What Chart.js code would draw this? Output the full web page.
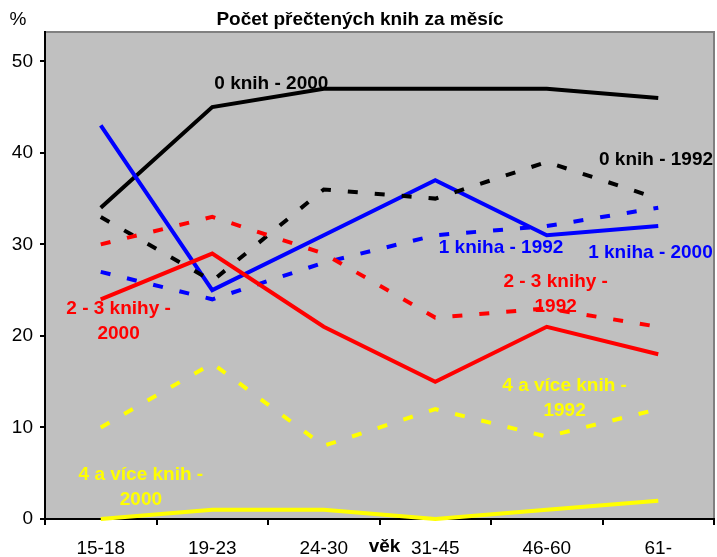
<!DOCTYPE html>
<html>
<head>
  <meta charset="utf-8" />
  <title>Počet přečtených knih za měsíc</title>
  <script src="https://cdn.jsdelivr.net/npm/chart.js"></script>
  <style>
    body { margin: 0; background: #fff; }
    #wrap { width: 717px; height: 557px; }
  </style>
</head>
<body>
  <div id="wrap"><canvas id="chart" width="717" height="557"></canvas></div>

  <script>
  // data (percent)
  const ageGroups = ['15-18', '19-23', '24-30', '31-45', '46-60', '61-'];
  const yTicks = [0, 10, 20, 30, 40, 50];

  const none2000 = [34, 45, 47, 47, 47, 46];
  const none1992 = [33, 26, 36, 35, 39, 35];
  const one2000 = [43, 25, 31, 37, 31, 32];
  const one1992 = [27, 24, 28, 31, 32, 34];
  const twoThree2000 = [24, 29, 21, 15, 21, 18];
  const twoThree1992 = [30, 33, 29, 22, 23, 21];
  const fourPlus2000 = [0, 1, 1, 0, 1, 2];
  const fourPlus1992 = [10, 17, 8, 12, 9, 12];

  const FONT = 'Arial, "Liberation Sans", sans-serif';
  const DASH = [10, 17];

  // series labels placed in data space: x = category index, y = value
  const notes = [
    { lines: ['0 knih - 2000'], color: '#000000', x: 1.53, y: 47.5 },
    { lines: ['0 knih - 1992'], color: '#000000', x: 4.98, y: 39.2 },
    { lines: ['1 kniha - 1992'], color: '#0000FF', x: 3.59, y: 29.6 },
    { lines: ['1 kniha - 2000'], color: '#0000FF', x: 4.93, y: 29.1 },
    { lines: ['2 - 3 knihy -', '1992'], color: '#FF0000', x: 4.08, y: 25.9 },
    { lines: ['2 - 3 knihy -', '2000'], color: '#FF0000', x: 0.16, y: 23.0 },
    { lines: ['4 a více knih -', '1992'], color: '#FFFF00', x: 4.16, y: 14.6 },
    { lines: ['4 a více knih -', '2000'], color: '#FFFF00', x: 0.36, y: 4.8 }
  ];

  function line(label, data, color, dashed) {
    return {
      label: label,
      data: data,
      borderColor: color,
      backgroundColor: color,
      borderWidth: 4,
      borderDash: dashed ? DASH : [],
      pointRadius: 0,
      tension: 0,
      fill: false,
      clip: false
    };
  }

  const decor = {
    id: 'decor',
    beforeDraw(chart) {
      const { ctx, chartArea: a } = chart;
      ctx.save();
      ctx.fillStyle = '#C0C0C0';
      ctx.fillRect(a.left, a.top, a.right - a.left, a.bottom - a.top);
      ctx.strokeStyle = '#808080';
      ctx.lineWidth = 2;
      ctx.beginPath();
      ctx.moveTo(a.left, a.top);
      ctx.lineTo(a.right, a.top);
      ctx.lineTo(a.right, a.bottom);
      ctx.stroke();
      ctx.restore();
    },
    afterDraw(chart) {
      const { ctx, scales } = chart;
      ctx.save();
      ctx.textAlign = 'center';
      ctx.textBaseline = 'middle';

      ctx.fillStyle = '#000';
      ctx.font = 'bold 19px ' + FONT;
      ctx.fillText('Počet přečtených knih za měsíc', 360, 20);
      ctx.font = '19px ' + FONT;
      ctx.fillText('%', 18, 20);

      // axis title sits on the boundary between 24-30 and 31-45
      const vx = (scales.x.getPixelForValue(2) + scales.x.getPixelForValue(3)) / 2;
      ctx.font = 'bold 19px ' + FONT;
      ctx.fillText('věk', vx + 5, 547);

      notes.forEach(n => {
        const step = scales.x.getPixelForValue(1) - scales.x.getPixelForValue(0);
        const px = scales.x.getPixelForValue(0) + n.x * step;
        const py = scales.y.getPixelForValue(n.y);
        ctx.fillStyle = n.color;
        n.lines.forEach((t, i) => ctx.fillText(t, px, py + i * 25));
      });
      ctx.restore();
    }
  };

  new Chart(document.getElementById('chart').getContext('2d'), {
    type: 'line',
    data: {
      labels: ageGroups,
      datasets: [
        line('4 a více knih - 1992', fourPlus1992, '#FFFF00', true),
        line('4 a více knih - 2000', fourPlus2000, '#FFFF00', false),
        line('2 - 3 knihy - 1992', twoThree1992, '#FF0000', true),
        line('2 - 3 knihy - 2000', twoThree2000, '#FF0000', false),
        line('1 kniha - 1992', one1992, '#0000FF', true),
        line('0 knih - 1992', none1992, '#000000', true),
        line('1 kniha - 2000', one2000, '#0000FF', false),
        line('0 knih - 2000', none2000, '#000000', false)
      ]
    },
    options: {
      responsive: false,
      animation: false,
      layout: { padding: { top: 32, right: 3, left: 0, bottom: 0 } },
      plugins: { legend: { display: false }, tooltip: { enabled: false }, title: { display: false } },
      scales: {
        x: {
          offset: true,
          grid: { display: true, offset: true, drawOnChartArea: false, drawTicks: true, tickLength: 6, color: '#000', lineWidth: 2 },
          border: { display: true, color: '#000', width: 2 },
          ticks: { color: '#000', font: { family: FONT, size: 19 }, padding: 12, maxRotation: 0 },
          afterFit(s) { s.height = 38; }
        },
        y: {
          min: 0,
          max: 53.2,
          afterBuildTicks(s) { s.ticks = yTicks.map(v => ({ value: v })); },
          grid: { display: true, drawOnChartArea: false, drawTicks: true, tickLength: 5, color: '#000', lineWidth: 2 },
          border: { display: true, color: '#000', width: 2 },
          ticks: { color: '#000', font: { family: FONT, size: 19 }, padding: 7 },
          afterFit(s) { s.width = 45; }
        }
      }
    },
    plugins: [decor]
  });
  </script>
</body>
</html>
